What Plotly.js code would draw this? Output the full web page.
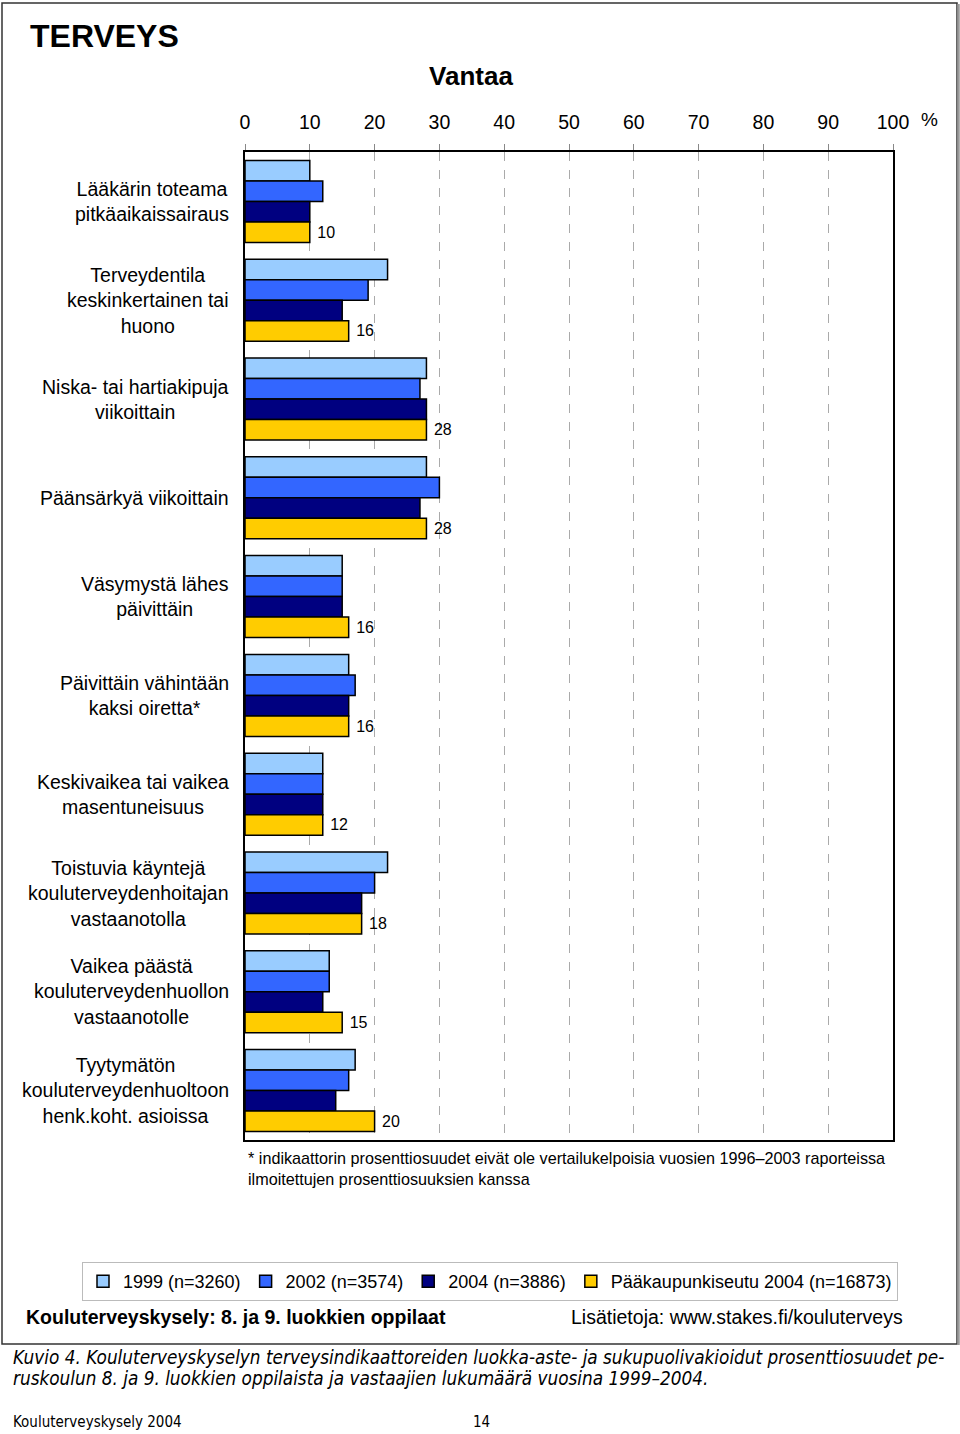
<!DOCTYPE html>
<html>
<head>
<meta charset="utf-8">
<script src="https://cdn.plot.ly/plotly-3.0.1.min.js"></script>
<style>html,body{margin:0;padding:0;background:#fff;}#chart{width:960px;height:1434px;}</style>
</head>
<body>
<div id="chart"></div>
<script>
// ---- data ----
const categories = [
  "Lääkärin toteama<br>pitkäaikaissairaus",
  "Terveydentila<br>keskinkertainen tai<br>huono",
  "Niska- tai hartiakipuja<br>viikoittain",
  "Päänsärkyä viikoittain",
  "Väsymystä lähes<br>päivittäin",
  "Päivittäin vähintään<br>kaksi oiretta*",
  "Keskivaikea tai vaikea<br>masentuneisuus",
  "Toistuvia käyntejä<br>kouluterveydenhoitajan<br>vastaanotolla",
  "Vaikea päästä<br>kouluterveydenhuollon<br>vastaanotolle",
  "Tyytymätön<br>kouluterveydenhuoltoon<br>henk.koht. asioissa"
];
const seriesNames = ["1999 (n=3260)", "2002 (n=3574)", "2004 (n=3886)", "Pääkaupunkiseutu 2004 (n=16873)"];
const v1999 = [10, 22, 28, 28, 15, 16, 12, 22, 13, 17];
const v2002 = [12, 19, 27, 30, 15, 17, 12, 20, 13, 16];
const v2004 = [10, 15, 28, 27, 15, 16, 12, 18, 12, 14];
const vPk   = [10, 16, 28, 28, 16, 16, 12, 18, 15, 20];
const xTicks = [0, 10, 20, 30, 40, 50, 60, 70, 80, 90, 100];
const colors = ["#99CCFF", "#3366FF", "#000080", "#FFCC00"];

// ---- geometry helpers (pixel -> paper) ----
const W = 960, H = 1434;
const L = 245, R = 893, T = 152, B = 1140;
const px = x => (x - L) / (R - L);
const py = y => (B - y) / (B - T);

const FONT = "Liberation Sans, Arial, sans-serif";
const NARROW = "Liberation Sans Narrow, Arial Narrow, DejaVu Sans Condensed, sans-serif";

const allVals = [v1999, v2002, v2004, vPk];
const traces = allVals.map((vals, i) => ({
  type: "bar",
  orientation: "h",
  name: seriesNames[i],
  y: categories,
  x: vals,
  marker: {color: colors[i], line: {color: "#000", width: 1.5}},
  text: i === 3 ? vals.map(String) : undefined,
  texttemplate: i === 3 ? " %{text}" : undefined,
  textposition: i === 3 ? "outside" : "none",
  textfont: {family: FONT, size: 16, color: "#000"},
  constraintext: "none",
  cliponaxis: false,
  hoverinfo: "x+name"
}));

const annotations = [];
categories.forEach(c => {
  annotations.push({
    xref: "paper", yref: "y", x: px(231), y: c,
    xanchor: "right", yanchor: "middle", align: "center",
    text: c, showarrow: false,
    font: {family: FONT, size: 19.5, color: "#000"}
  });
});
annotations.push(
  {xref: "paper", yref: "paper", x: px(28), y: py(36), xanchor: "left", yanchor: "middle",
   text: "<b>TERVEYS</b>", showarrow: false, font: {family: FONT, size: 32, color: "#000"}},
  {xref: "paper", yref: "paper", x: px(919), y: py(120), xanchor: "left", yanchor: "middle",
   text: "%", showarrow: false, font: {family: FONT, size: 19, color: "#000"}},
  {xref: "paper", yref: "paper", x: px(246), y: py(1168), xanchor: "left", yanchor: "middle", align: "left",
   text: "* indikaattorin prosenttiosuudet eivät ole vertailukelpoisia vuosien 1996–2003 raporteissa<br>ilmoitettujen prosenttiosuuksien kanssa",
   showarrow: false, font: {family: FONT, size: 16.2, color: "#000"}},
  {xref: "paper", yref: "paper", x: px(24), y: py(1317), xanchor: "left", yanchor: "middle",
   text: "<b>Kouluterveyskysely: 8. ja 9. luokkien oppilaat</b>", showarrow: false,
   font: {family: FONT, size: 19.5, color: "#000"}},
  {xref: "paper", yref: "paper", x: px(569), y: py(1317), xanchor: "left", yanchor: "middle",
   text: "Lisätietoja: www.stakes.fi/kouluterveys", showarrow: false,
   font: {family: FONT, size: 19.5, color: "#000"}},
  {xref: "paper", yref: "paper", x: px(11), y: py(1357), xanchor: "left", yanchor: "middle",
   text: "<i>Kuvio 4. Kouluterveyskyselyn terveysindikaattoreiden luokka-aste- ja sukupuolivakioidut prosenttiosuudet pe-</i>",
   showarrow: false, font: {family: NARROW, size: 18.8, color: "#000"}},
  {xref: "paper", yref: "paper", x: px(11), y: py(1378), xanchor: "left", yanchor: "middle",
   text: "<i>ruskoulun 8. ja 9. luokkien oppilaista ja vastaajien lukumäärä vuosina 1999–2004.</i>",
   showarrow: false, font: {family: NARROW, size: 18.8, color: "#000"}},
  {xref: "paper", yref: "paper", x: px(11), y: py(1422), xanchor: "left", yanchor: "middle",
   text: "Kouluterveyskysely 2004", showarrow: false, font: {family: NARROW, size: 15, color: "#000"}},
  {xref: "paper", yref: "paper", x: px(471), y: py(1422), xanchor: "left", yanchor: "middle",
   text: "14", showarrow: false, font: {family: NARROW, size: 15, color: "#000"}}
);

const shapes = [
  {type: "rect", xref: "paper", yref: "paper", x0: px(2), x1: px(957), y0: py(3), y1: py(1344),
   line: {color: "#333", width: 1.5}, layer: "above"},
  {type: "line", xref: "paper", yref: "paper", x0: px(958.5), x1: px(958.5), y0: py(4), y1: py(1345),
   line: {color: "#999", width: 2.5}, layer: "above"}
];

const layout = {
  width: W, height: H,
  margin: {l: L, r: W - R, t: T, b: H - B, pad: 0},
  paper_bgcolor: "#fff", plot_bgcolor: "#fff",
  font: {family: FONT, size: 18, color: "#000"},
  title: {text: "<b>Vantaa</b>", x: 471 / W, xanchor: "center", y: 1 - 76 / H, yanchor: "middle",
          xref: "container", yref: "container", font: {family: FONT, size: 26, color: "#000"}},
  barmode: "group",
  bargap: 0.17,
  bargroupgap: 0,
  showlegend: true,
  legend: {
    orientation: "h", x: px(82), xanchor: "left", y: py(1262), yanchor: "top",
    font: {family: FONT, size: 18, color: "#000"},
    bgcolor: "#fff", bordercolor: "#bbb", borderwidth: 1,
    traceorder: "normal", itemwidth: 30, tracegroupgap: 0
  },
  xaxis: {
    side: "top", range: [0, 100], tickvals: xTicks, ticktext: xTicks.map(String),
    showgrid: true, gridcolor: "#aaa", gridwidth: 1, griddash: "dash",
    zeroline: false, showline: true, mirror: true, linecolor: "#000", linewidth: 2,
    ticks: "outside", ticklen: 6, tickcolor: "#888", tickwidth: 1,
    ticklabelstandoff: 7,
    tickfont: {family: FONT, size: 19.5, color: "#000"}, fixedrange: true
  },
  yaxis: {
    type: "category", categoryorder: "array", categoryarray: categories,
    autorange: "reversed", showticklabels: false, ticks: "",
    showgrid: false, zeroline: false, showline: true, mirror: true,
    linecolor: "#000", linewidth: 2, fixedrange: true
  },
  annotations: annotations,
  shapes: shapes
};

Plotly.newPlot("chart", traces, layout, {displayModeBar: false, staticPlot: true});
</script>
</body>
</html>
